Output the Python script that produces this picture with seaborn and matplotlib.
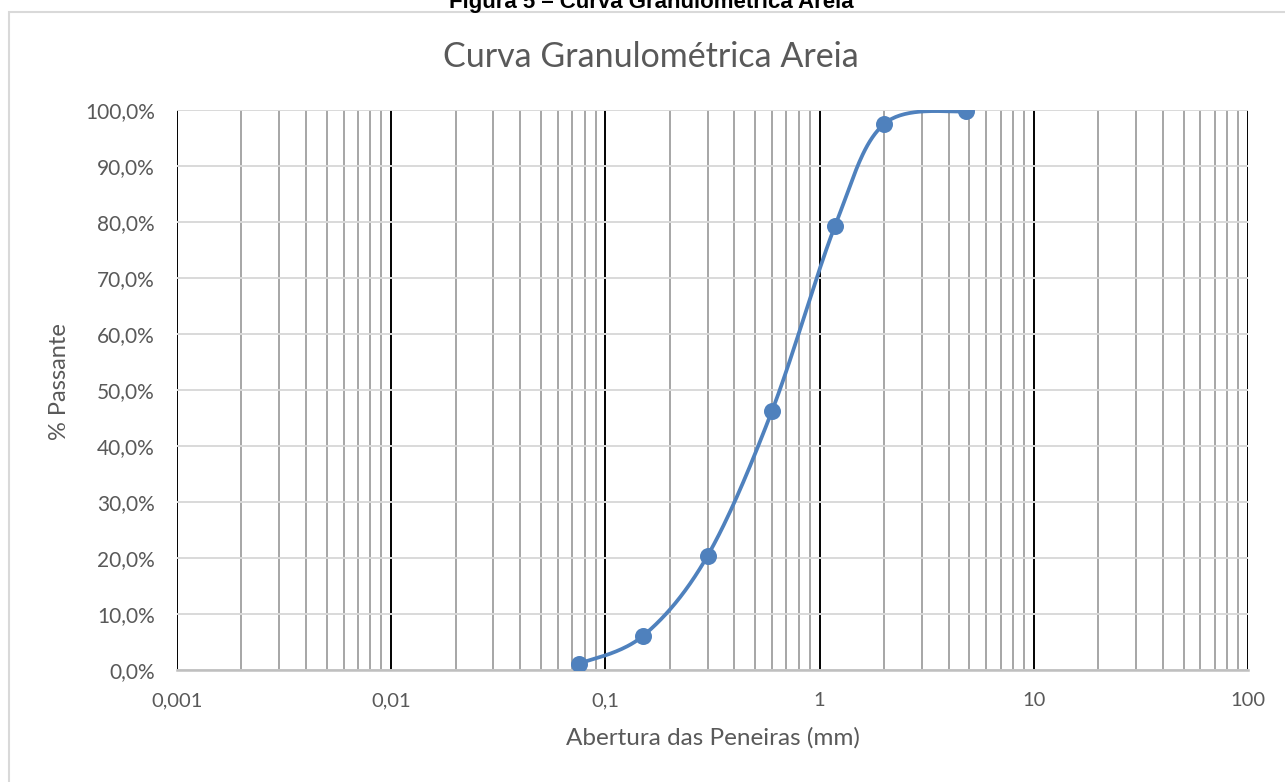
import numpy as np
import pandas as pd
import seaborn as sns
import matplotlib.pyplot as plt
from matplotlib.ticker import FixedLocator, LogLocator, NullFormatter
from matplotlib.patches import Rectangle

# Dados do ensaio de granulometria
abertura = [0.075, 0.15, 0.3, 0.6, 1.18, 2.0, 4.8]      # mm
passante = [1.1, 6.1, 20.4, 46.3, 79.3, 97.5, 99.8]     # %

x_ticks = [0.001, 0.01, 0.1, 1, 10, 100]
x_tick_labels = ["0,001", "0,01", "0,1", "1", "10", "100"]
y_ticks = list(range(0, 101, 10))
y_tick_labels = [f"{v},0%" for v in y_ticks]

AZUL = "#4f81bd"
CINZA_TXT = "#595959"


# Linha suavizada (Catmull-Rom em escala log, como a "linha suavizada" do Excel)
def suavizar(xs, ys, n=40):
    lx = np.log10(np.array(xs, float))
    y = np.array(ys, float)
    px = np.concatenate([[lx[0]], lx, [lx[-1]]])
    py = np.concatenate([[y[0]], y, [y[-1]]])
    cx, cy = [], []
    for i in range(1, len(px) - 2):
        t = np.linspace(0, 1, n, endpoint=(i == len(px) - 3))
        for p, out in ((px, cx), (py, cy)):
            p0, p1, p2, p3 = p[i - 1], p[i], p[i + 1], p[i + 2]
            out.extend(0.5 * (2 * p1 + (-p0 + p2) * t
                              + (2 * p0 - 5 * p1 + 4 * p2 - p3) * t ** 2
                              + (-p0 + 3 * p1 - 3 * p2 + p3) * t ** 3))
    return 10 ** np.array(cx), np.array(cy)


curva_x, curva_y = suavizar(abertura, passante)
df_pontos = pd.DataFrame({"Abertura": abertura, "Passante": passante})
df_curva = pd.DataFrame({"Abertura": curva_x, "Passante": curva_y})

sns.set_style("white")
plt.rcParams["font.family"] = ["Lato", "DejaVu Sans"]

W, H = 1285, 782
fig = plt.figure(figsize=(W / 100, H / 100), dpi=100)
ax = fig.add_axes([177 / W, 1 - 670 / H, (1248 - 177) / W, (670 - 110) / H])

# Moldura do gráfico e legenda da figura (cortada no topo, como no original)
fig.patches.append(Rectangle((9 / W, -0.05), 1.1, 1 - 12 / H + 0.05,
                             transform=fig.transFigure, fill=False,
                             edgecolor="#d9d9d9", linewidth=1.5, zorder=0))
fig.text(651 / W, 1 - 8 / H, "Figura 5 – Curva Granulométrica Areia",
         ha="center", va="baseline", fontsize=16, fontweight="bold",
         family=["Liberation Sans", "DejaVu Sans"], color="black")
fig.text(651 / W, 1 - 67 / H, "Curva Granulométrica Areia",
         ha="center", va="baseline", fontsize=24.5, color=CINZA_TXT)

sns.lineplot(data=df_curva, x="Abertura", y="Passante", ax=ax, sort=False,
             estimator=None, color=AZUL, linewidth=2.7, zorder=4)
sns.scatterplot(data=df_pontos, x="Abertura", y="Passante", ax=ax,
                color=AZUL, s=150, edgecolor=AZUL, linewidth=0, zorder=5)

ax.set_xscale("log")
ax.set_xlim(0.001, 100)
ax.set_ylim(0, 100)

ax.xaxis.set_major_locator(FixedLocator(x_ticks))
ax.set_xticklabels(x_tick_labels)
ax.xaxis.set_minor_locator(LogLocator(base=10, subs=np.arange(2, 10)))
ax.xaxis.set_minor_formatter(NullFormatter())
ax.set_yticks(y_ticks)
ax.set_yticklabels(y_tick_labels)

ax.grid(True, which="major", axis="x", color="black", linewidth=1.4)
ax.grid(True, which="minor", axis="x", color="#a6a6a6", linewidth=1.4)
ax.grid(True, which="major", axis="y", color="#d9d9d9", linewidth=1.4)
ax.set_axisbelow(True)

for lado in ["top", "right", "left"]:
    ax.spines[lado].set_visible(False)
ax.spines["bottom"].set_color("#bfbfbf")
ax.spines["bottom"].set_linewidth(1.8)

ax.tick_params(axis="y", which="both", length=0, labelsize=15,
               labelcolor=CINZA_TXT, pad=16)
ax.tick_params(axis="x", which="both", length=0, labelsize=14.5,
               labelcolor=CINZA_TXT, pad=16)

ax.set_xlabel("Abertura das Peneiras (mm)", fontsize=17.5, color=CINZA_TXT)
ax.set_ylabel("% Passante", fontsize=17, color=CINZA_TXT)
ax.xaxis.set_label_coords(0.5, (670 - 727) / 560)
ax.yaxis.set_label_coords((70 - 177) / 1071, (670 - 382) / 560)

fig.savefig("out.png", dpi=100)
